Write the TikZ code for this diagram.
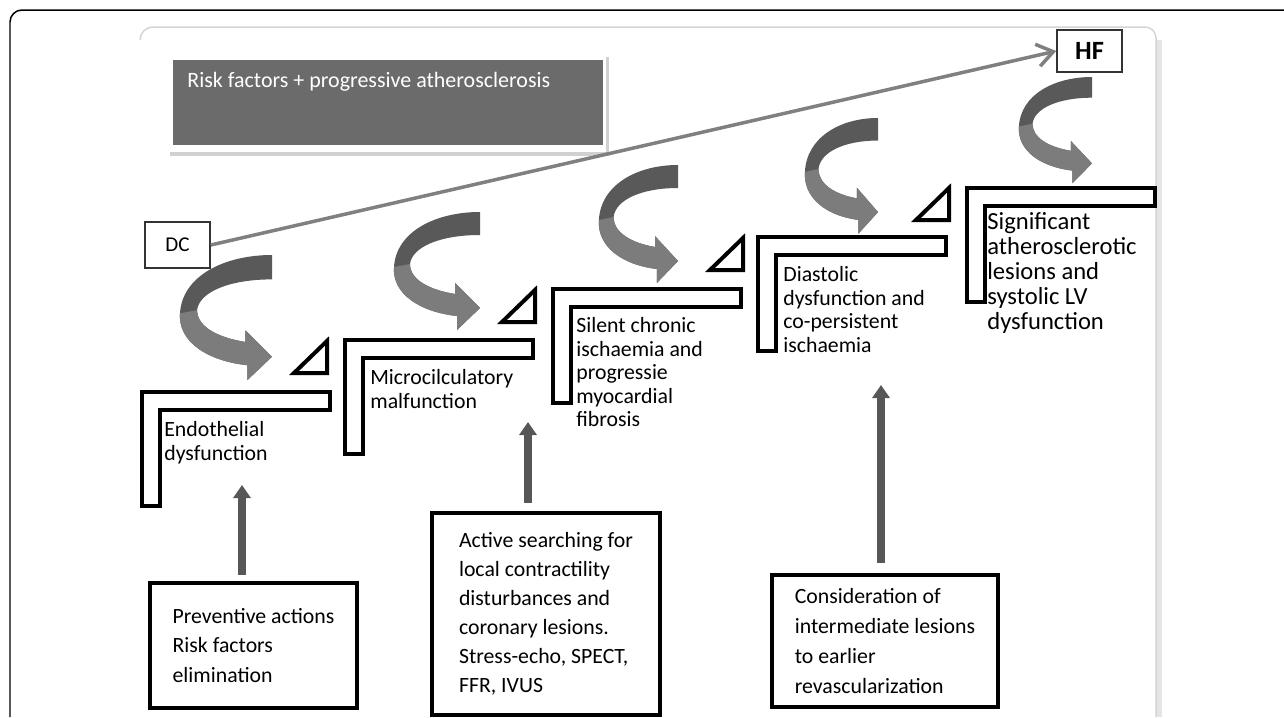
\documentclass[tikz,border=0pt]{standalone}
\usepackage{fontspec}
\setmainfont{Carlito}
\usetikzlibrary{arrows.meta}

\definecolor{bandgray}{HTML}{6B6B6B}
\definecolor{curvedark}{HTML}{595959}
\definecolor{curvelight}{HTML}{7C7C7C}
\definecolor{linkgray}{HTML}{808080}
\definecolor{upgray}{HTML}{575757}
\definecolor{panelgray}{HTML}{D4D4D4}

\begin{document}
\begin{tikzpicture}[x=0.02cm,y=-0.02cm,
  stepline/.style={line width=0.08cm, line join=miter},
  stagetext/.style={anchor=north west, inner sep=0pt, align=left, font=\fontsize{12.4}{13.4}\selectfont},
  actionbox/.style={draw, line width=0.08cm, inner sep=0pt, align=left, font=\fontsize{12.4}{17}\selectfont},
  tagbox/.style={draw=black!80, line width=0.03cm, fill=white, minimum width=1.3cm, inner sep=0pt},
  uparrow/.style={draw=upgray, line width=0.16cm, -{Triangle[length=0.26cm, width=0.34cm]}},
  linkarrow/.style={draw=linkgray, line width=0.07cm, -{Straight Barb[length=0.32cm, width=0.45cm]}}]
\useasboundingbox (0,0) rectangle (1284,717);
% frame and slide panel
\draw[line width=0.03cm] (10,717) -- (10,22) arc[start angle=180, end angle=270, radius=12] -- (1284,10);
\draw[panelgray, line width=0.03cm] (140,40) arc[start angle=180, end angle=270, radius=13] -- (1145,27) arc[start angle=270, end angle=360, radius=11] -- (1156,717);
\fill[panelgray!60] (1157,40) rectangle (1162,717);
% banner
\fill[black!18] (170,57) rectangle (609,156);
\fill[white] (166,52) rectangle (606,152);
\fill[bandgray] (173,60) rectangle (603,145);
\node[anchor=west, inner sep=0pt, text=white, font=\fontsize{12.5}{15}\selectfont] (risk) at (187,82) {Risk factors + progressive atherosclerosis};
% DC and HF
\node[tagbox, minimum height=0.92cm, font=\fontsize{12}{14}\selectfont] (dc) at (177.5,245) {DC};
\node[tagbox, minimum height=0.84cm, font=\fontsize{15}{17}\selectfont\bfseries] (hf) at (1089.5,51) {HF};
\draw[linkarrow] (dc.east) -- (hf.west);
% steps
\foreach \sx/\sy in {142/392, 345/340, 553/289, 758/237, 967/188}
  \draw[stepline] (\sx,\sy) -- ++(188,0) -- ++(0,18) -- ++(-170,0) -- ++(0,96) -- ++(-18,0) -- cycle;
\foreach \tx/\ty in {327/373, 535/322, 743/270, 949/220}
  \draw[stepline] (\tx,\ty) -- ++(-33,0) -- ++(33,-32) -- cycle;
% curved arrows
\foreach \ax/\ay/\cx/\cy in {272/255/1.07/1.06, 480/212/1/1, 678/165/0.92/1, 878/118/0.85/0.98, 1092/77/0.85/0.9}{
  \begin{scope}[shift={(\ax,\ay)}, xscale=\cx, yscale=\cy]
    \fill[curvedark] (0,0) -- (0,23) .. controls (-40,23) and (-68,35) .. (-70,52)
      .. controls (-70,68) and (-50,78) .. (-25,82) -- (-25,71) -- (0,96) -- (-23,118) -- (-23,104)
      .. controls (-60,100) and (-88,82) .. (-86,55) .. controls (-84,20) and (-45,0) .. (0,0) -- cycle;
    \fill[curvelight] (-70,52) .. controls (-70,68) and (-50,78) .. (-25,82) -- (-25,71) -- (0,96)
      -- (-23,118) -- (-23,104) .. controls (-60,100) and (-88,82) .. (-86,55) -- cycle;
  \end{scope}
}
% stage texts
\node[stagetext] (endo) at (164,421) {Endothelial\\dysfunction};
\node[stagetext] (micro) at (370,369) {Microcilculatory\\malfunction};
\node[stagetext] (silent) at (576,317) {Silent chronic\\ischaemia and\\progressie\\myocardial\\fibrosis};
\node[stagetext] (diast) at (783,266) {Diastolic\\dysfunction and\\co-persistent\\ischaemia};
\node[stagetext, font=\fontsize{14}{14.2}\selectfont] (signif) at (987,212) {Significant\\atherosclerotic\\lesions and\\systolic LV\\dysfunction};
% actions
\node[actionbox, minimum width=4.14cm, minimum height=2.5cm] (prev) at (253.5,645.5) {Preventive actions\\Risk factors\\elimination};
\node[actionbox, minimum width=4.56cm, minimum height=4.04cm, font=\fontsize{12.4}{16.5}\selectfont] (search) at (546,614) {Active searching for\\local contractility\\disturbances and\\coronary lesions.\\Stress-echo, SPECT,\\FFR, IVUS};
\node[actionbox, minimum width=4.52cm, minimum height=2.64cm] (consid) at (885,641) {Consideration of\\intermediate lesions\\to earlier\\revascularization};
\coordinate (t1) at (242,485);
\coordinate (t2) at (528,422);
\coordinate (t3) at (881,385);
\draw[uparrow, shorten <=0.12cm] (prev.north -| t1) -- (t1);
\draw[uparrow, shorten <=0.16cm] (search.north -| t2) -- (t2);
\draw[uparrow, shorten <=0.2cm] (consid.north -| t3) -- (t3);
\end{tikzpicture}
\end{document}
